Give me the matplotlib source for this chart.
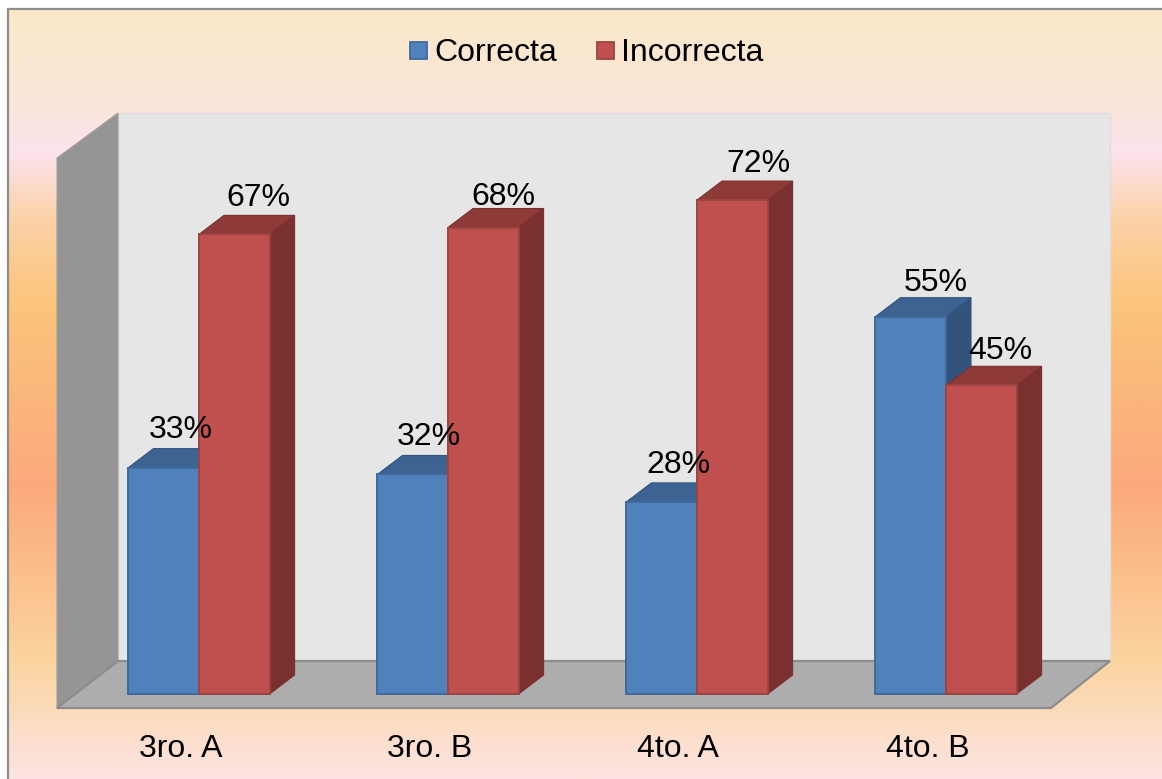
# -*- coding: utf-8 -*-
import numpy as np
import matplotlib
matplotlib.use('Agg')
import matplotlib.pyplot as plt
from matplotlib.colors import LinearSegmentedColormap
from matplotlib.patches import Polygon, Rectangle

plt.rcParams['font.family'] = ['Liberation Sans', 'DejaVu Sans']

# data
grupos = ['3ro. A', '3ro. B', '4to. A', '4to. B']
correcta = [33, 32, 28, 55]
incorrecta = [67, 68, 72, 45]

# label offsets from the front top centre of each bar (px)
off_correcta = [(17, 38), (16, 37), (17, 37), (25, 34)]
off_incorrecta = [(24, 36), (20, 31), (26, 36), (19, 34)]

W, H = 1162, 779
FONT = 23.0

# scale of the chart
X0 = 199.0      # px of the first group centre
STEP = 249.0    # px between groups
Y0 = 694.0      # px of value 0
PCT = 6.86      # px per percent unit
BAR = 70.6 / STEP
DX = 25.0 / STEP
DY = 19.0 / PCT

fig = plt.figure(figsize=(W / 100, H / 100), dpi=100)
ax = fig.add_axes([0, 0, 1, 1])
ax.axis('off')


def px(x, y):
    # pixel position to axis units, only used for the frame and the walls
    return ((x - X0) / STEP, (Y0 - y) / PCT)


# background gradient
stops = [(0.0, '#fae9c8'), (0.13, '#fce5dc'), (0.185, '#fde3ee'), (0.27, '#fbd2a8'),
         (0.378, '#fbc57c'), (0.62, '#fba97b'), (0.845, '#fbd49e'), (1.0, '#fde4e2')]
cmap = LinearSegmentedColormap.from_list('fondo', stops)
left, bottom = px(8, 779)
right, top = px(1162, 9)
ax.imshow(np.linspace(0, 1, 512).reshape(-1, 1), cmap=cmap, aspect='auto',
          extent=(left, right, bottom, top), origin='upper', zorder=0)
ax.set_xlim(-X0 / STEP, (W - X0) / STEP)
ax.set_ylim((Y0 - H) / PCT, Y0 / PCT)

# frame (left and top edges only, the others run off the image)
ax.plot([left, left, right], [bottom, top, top], color='#8e8e8e', lw=1.6, zorder=1,
        solid_joinstyle='miter')

# walls and floor
ax.add_patch(Polygon([px(118, 113), px(1110, 113), px(1110, 661), px(118, 661)],
                     fc='#e6e6e6', ec='#dedede', lw=1, zorder=2))
ax.add_patch(Polygon([px(57, 158), px(118, 113), px(118, 661), px(57, 708)],
                     fc='#959595', ec='#a0a0a0', lw=0.8, zorder=3))
ax.add_patch(Polygon([px(57, 708), px(118, 661), px(1110, 661), px(1051, 708)],
                     fc='#adadad', ec='#8c8c8c', lw=1.6, zorder=3))


def bar3d(x, v, colors, z):
    front, edge, top_c, side = colors
    ax.add_patch(Polygon([(x + BAR, 0), (x + BAR + DX, DY), (x + BAR + DX, v + DY), (x + BAR, v)],
                         fc=side, ec=side, lw=0.8, zorder=z))
    ax.add_patch(Polygon([(x, v), (x + DX, v + DY), (x + BAR + DX, v + DY), (x + BAR, v)],
                         fc=top_c, ec=side, lw=0.8, zorder=z))
    ax.add_patch(Rectangle((x, 0), BAR, v, fc=front, ec=edge, lw=1.4, zorder=z + 0.1))


azul = ('#4f81bd', '#41699a', '#3c6391', '#32547c')
rojo = ('#c0504d', '#9b4441', '#8e3a38', '#7a302e')

pos = np.arange(len(grupos))
for i in pos:
    bar3d(i - BAR, correcta[i], azul, 4 + i)
    bar3d(i, incorrecta[i], rojo, 4.5 + i)

# percent labels
for i in pos:
    for v, off, xc in ((correcta[i], off_correcta[i], i - BAR / 2),
                       (incorrecta[i], off_incorrecta[i], i + BAR / 2)):
        ax.text(xc + off[0] / STEP, v + off[1] / PCT, '%d%%' % v, fontsize=FONT,
                color='black', ha='center', va='center', zorder=20)

# group names
for i in pos:
    ax.text(i - 0.075, px(0, 749)[1], grupos[i], fontsize=FONT, color='black',
            ha='center', va='center', zorder=20)

# legend
for sx, name, col in ((410, 'Correcta', azul), (597, 'Incorrecta', rojo)):
    x, y = px(sx, 42)
    ax.add_patch(Rectangle((x, y), 17 / STEP, -17 / PCT, fc=col[0], ec=col[1], lw=1.3, zorder=20))
    ax.text(px(sx + 24, 0)[0], px(0, 53)[1], name, fontsize=FONT, color='black',
            ha='left', va='center', zorder=20)

plt.savefig('out.png', dpi=100)
